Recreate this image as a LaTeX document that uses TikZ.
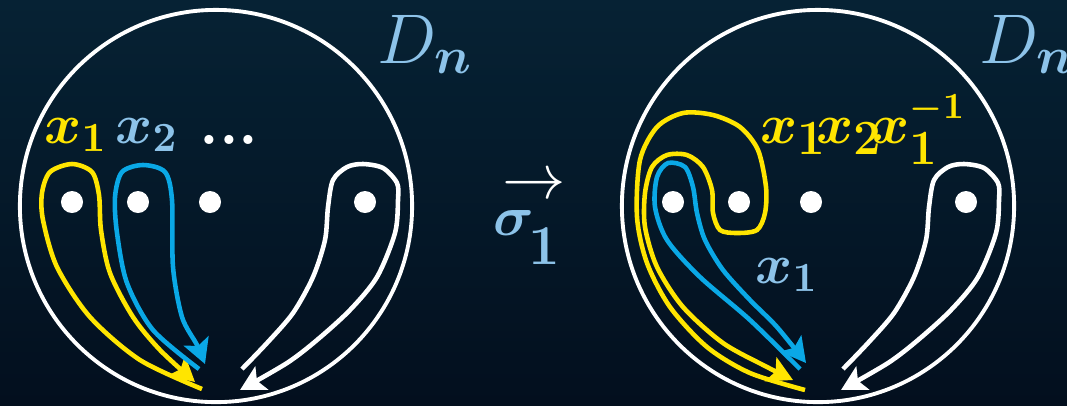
\documentclass[tikz,border=0pt]{standalone}
\usepackage{fix-cm}
\usepackage{amsmath}
\usetikzlibrary{arrows.meta}
\definecolor{bgtop}{HTML}{062234}
\definecolor{bgbot}{HTML}{030F1E}
\definecolor{gold}{HTML}{FFE500}
\definecolor{sky}{HTML}{0AA8E6}
\definecolor{pale}{HTML}{8DC3E9}
\DeclareMathSizes{16}{16}{11.8}{9}
\DeclareMathSizes{16.01}{16.01}{14}{10.5}
\DeclareMathSizes{20}{20}{14.7}{10}

\begin{document}
\begin{tikzpicture}[x=0.01cm,y=-0.01cm,>=Stealth]
  \tikzset{
    disk/.style={circle,draw=white,line width=1.1pt,minimum size=3.92cm,inner sep=0},
    puncture/.style={circle,fill=white,minimum size=.22cm,inner sep=0},
    loopy/.style={line width=1.3pt,-{Stealth[length=7pt,width=7.5pt,inset=1.5pt]}},
    lbl/.style={inner sep=0,anchor=base,font=\fontsize{16}{19}\selectfont\boldmath},
    big/.style={inner sep=0,anchor=base,font=\fontsize{20}{24}\selectfont,text=pale}
  }
  \shade[top color=bgtop,bottom color=bgbot] (0,0) rectangle (1067,405);
  \useasboundingbox (0,0) rectangle (1067,405);

  \node[disk] (dl) at (216,206) {};
  \node[disk] (dr) at (818,206) {};
  \foreach \i/\x in {1/72,2/138,3/210,4/365}{
    \node[puncture] (l\i) at (\x,202) {};
    \node[puncture] (r\i) at (\x+601,202) {};
  }

  \node[lbl,text=gold] (xa) at (76,143) {$x_{\mathbf{1}}$};
  \node[lbl,text=pale] (xb) at (147,143) {$x_{\mathbf{2}}$};
  \node[lbl,text=white,font=\fontsize{18}{20}\selectfont\bfseries] (more) at (229,144) {...};
  \node[big] (dnl) at (425,63) {$D_{\boldsymbol{n}}$};
  \node[big] (dnr) at (1027,63) {$D_{\boldsymbol{n}}$};
  \node[text=white,inner sep=0,font=\fontsize{18}{20}\selectfont] (arr) at (534,187) {$\rightarrow$};
  \node[lbl,text=pale] (sig) at (527,235) {$\sigma$\kern-1.5pt\raisebox{-8.5pt}{\bfseries 1}};
  \node[lbl,text=gold,anchor=base west,font=\fontsize{16.01}{19}\selectfont\boldmath] (conj) at (760,143)
    {$x_{\mathbf{1}}\kern-3pt x_{\mathbf{2}}\kern-3pt x_{\mathbf{1}}^{\scriptscriptstyle -\mathbf{1}}$};
  \node[lbl,text=pale] (xc) at (787,283) {$x_{\mathbf{1}}$};

  % left disk
  \draw[loopy,gold] plot[smooth] coordinates {(202,389) (140,360) (90,317) (57,267)
    (43,220) (42,193) (50,172) (72,164) (92,172) (99,195) (101,230) (110,273)
    (133,317) (160,350) (195,382)};
  \draw[loopy,sky] plot[smooth] coordinates {(199,369) (153,330) (127,283) (117,233)
    (115,197) (122,172) (143,165) (165,172) (172,200) (173,267) (182,317)
    (197,345) (205,364)};
  \draw[loopy,white] plot[smooth] coordinates {(242,369) (267,343) (293,313) (313,277)
    (325,240) (328,207) (333,180) (347,167) (363,164) (383,168) (397,183)
    (398,200) (395,233) (377,277) (350,310) (317,340) (287,363) (240,390)};

  % right disk
  \draw[loopy,gold] plot[smooth] coordinates {(805,390) (750,373) (707,347) (670,307)
    (647,263) (637,217) (640,160) (657,127) (683,113) (713,115) (740,127)
    (758,150) (766,187) (765,213) (757,230) (737,233) (720,230) (713,213)
    (712,190) (703,167) (687,155) (667,155) (652,167) (645,193) (645,227)
    (657,267) (683,307) (723,343) (767,367) (793,380)};
  \draw[loopy,sky] plot[smooth] coordinates {(800,369) (750,320) (700,277) (667,240)
    (655,207) (657,177) (668,163) (685,167) (693,187) (697,213) (705,240)
    (723,270) (750,300) (777,327) (806,363)};
  \draw[loopy,white] plot[smooth] coordinates {(843,369) (868,343) (894,313) (914,277)
    (926,240) (929,207) (934,180) (948,167) (964,164) (984,168) (998,183)
    (999,200) (996,233) (978,277) (951,310) (918,340) (888,363) (841,390)};
\end{tikzpicture}
\end{document}
